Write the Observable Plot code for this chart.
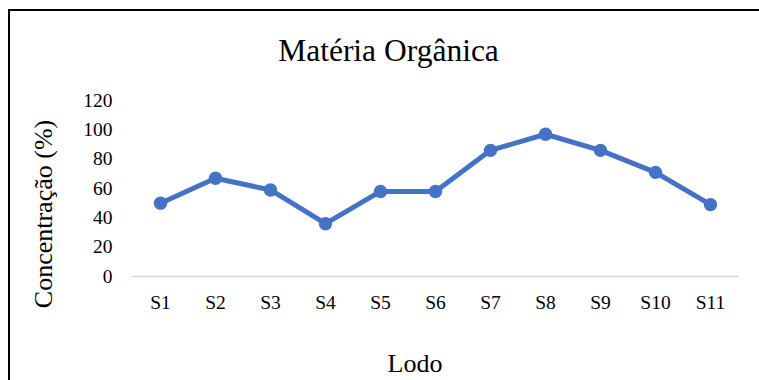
<!DOCTYPE html>
<html>
<head>
<meta charset="utf-8">
<script src="https://cdn.jsdelivr.net/npm/d3@7"></script>
<script src="https://cdn.jsdelivr.net/npm/@observablehq/plot@0.6"></script>
<style>
  html, body { margin: 0; padding: 0; background: #fff; }
  #chart {
    position: relative; width: 759px; height: 380px; overflow: hidden;
    font-family: "Liberation Serif", "Times New Roman", serif; color: #000;
  }
  #chart svg { position: absolute; left: 0; top: 0; }
  .frame-edge {
    position: absolute; left: 7.5px; top: 8.5px; width: 800px; height: 400px;
    border-left: 2.5px solid #000; border-top: 2.5px solid #000;
  }
  .lbl { position: absolute; line-height: 1; white-space: nowrap; }
  #title { font-size: 31.5px; left: 388.5px; top: 34.6px; transform: translateX(-50%); }
  #xlabel { font-size: 26px; left: 415px; top: 351px; transform: translateX(-50%); }
  #ylabel { font-size: 26px; left: 43.7px; top: 214px; transform: translate(-50%, -50%) rotate(-90deg); }
</style>
</head>
<body>
<div id="chart">
  <div class="frame-edge"></div>
  <div class="lbl" id="title">Matéria Orgânica</div>
  <div class="lbl" id="ylabel">Concentração (%)</div>
  <div class="lbl" id="xlabel">Lodo</div>
</div>
<script>
// Amostras de lodo e teor de matéria orgânica (%)
const samples = ["S1", "S2", "S3", "S4", "S5", "S6", "S7", "S8", "S9", "S10", "S11"];
const organicMatter = [50, 67, 59, 36, 58, 58, 86, 97, 86, 71, 49];
const yTicks = [0, 20, 40, 60, 80, 100, 120];

const rows = samples.map((s, i) => ({sample: s, value: organicMatter[i]}));

const blue = "#4472C4";

const plot = Plot.plot({
  width: 759,
  height: 380,
  marginLeft: 131,
  marginRight: 20,
  marginTop: 100,
  marginBottom: 104,
  style: {fontFamily: "Liberation Serif, Times New Roman, serif", fontSize: "19.5px", color: "#000", background: "transparent"},
  x: {type: "point", domain: samples, padding: 0.5, label: null},
  y: {domain: [0, 120], label: null},
  marks: [
    Plot.ruleY([0], {stroke: "#d9d9d9", strokeWidth: 1.5}),
    Plot.axisY({ticks: yTicks, tickSize: 0, tickPadding: 19, label: null}),
    Plot.axisX({tickSize: 0, tickPadding: 18.5, label: null}),
    Plot.line(rows, {x: "sample", y: "value", stroke: blue, strokeWidth: 5, strokeLinejoin: "round"}),
    Plot.dot(rows, {x: "sample", y: "value", r: 6.7, fill: blue, stroke: "none"})
  ]
});

document.getElementById("chart").prepend(plot);
</script>
</body>
</html>
